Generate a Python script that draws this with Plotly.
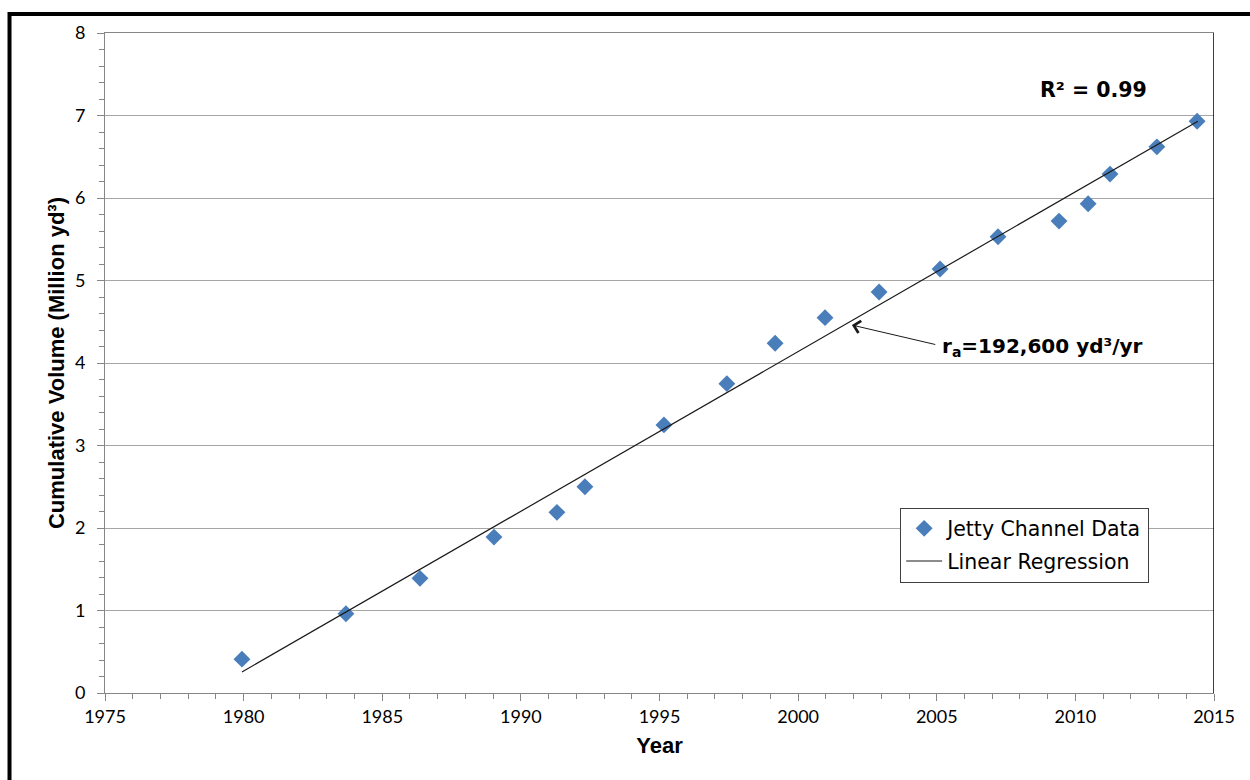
import plotly.graph_objects as go

# Jetty channel cumulative dredged volume (million cubic yards)
years = [1979.94, 1983.69, 1986.36, 1989.03, 1991.30, 1992.31, 1995.16, 1997.43,
         1999.17, 2000.97, 2002.92, 2005.12, 2007.21, 2009.41, 2010.46, 2011.25,
         2012.94, 2014.39]
volumes = [0.41, 0.96, 1.39, 1.89, 2.19, 2.50, 3.25, 3.75, 4.24, 4.55, 4.86,
           5.14, 5.53, 5.72, 5.93, 6.29, 6.62, 6.93]

# Linear regression endpoints
reg_years = [1979.94, 2014.42]
reg_values = [0.255, 6.93]

x_ticks = [1975, 1980, 1985, 1990, 1995, 2000, 2005, 2010, 2015]
y_ticks = [0, 1, 2, 3, 4, 5, 6, 7, 8]

CAL = "Lato, 'Open Sans', sans-serif"
WIDE = "'DejaVu Sans', Verdana, sans-serif"
ARIAL = "'Liberation Sans', Arial, sans-serif"
GRID = "#A6A6A6"
AXIS = "#868686"

fig = go.Figure()
fig.add_trace(go.Scatter(
    x=years, y=volumes, mode="markers", name="Jetty Channel Data",
    legendgroup="a",
    marker=dict(symbol="diamond", size=13, color="#4A7EBB",
                line=dict(width=0)),
))
fig.add_trace(go.Scatter(
    x=reg_years, y=reg_values, mode="lines", name="Linear Regression",
    legendgroup="b",
    line=dict(color="#1a1a1a", width=1.2),
))

# rate arrow and label
fig.add_annotation(x=2001.94, y=4.46, ax=2005.0, ay=4.22, axref="x", ayref="y",
                   xref="x", yref="y", text="", showarrow=True, arrowhead=4,
                   arrowsize=2.4, arrowwidth=1, arrowcolor="#1a1a1a")
fig.add_annotation(x=2005.12, y=4.19, xref="x", yref="y", xanchor="left",
                   yanchor="middle", showarrow=False,
                   text="r<sub>a</sub>=192,600 yd³/yr",
                   font=dict(family=WIDE, size=20, color="#000000", weight="bold"))
fig.add_annotation(x=2010.67, y=7.31, xref="x", yref="y", xanchor="center",
                   yanchor="middle", showarrow=False, text="R² = 0.99",
                   font=dict(family=WIDE, size=20.5, color="#000000", weight="bold"))

# right plot border and outer frame
fig.add_shape(type="line", xref="x", yref="y", x0=2015, x1=2015, y0=0, y1=8,
              line=dict(color="#000000", width=1.5))
fig.add_shape(type="line", xref="paper", yref="paper", x0=-0.0866, x1=1.04,
              y0=1.0288, y1=1.0288, line=dict(color="#000000", width=4))
fig.add_shape(type="line", xref="paper", yref="paper", x0=-0.0861, x1=-0.0861,
              y0=1.0318, y1=-0.14, line=dict(color="#000000", width=4))

fig.update_layout(
    width=1250, height=780,
    margin=dict(l=105, r=36, t=33, b=87),
    paper_bgcolor="white", plot_bgcolor="white",
    showlegend=True,
    legend=dict(
        x=0.717, y=0.281, xanchor="left", yanchor="top",
        bgcolor="white", bordercolor="#404040", borderwidth=1,
        font=dict(family=WIDE, size=20.5, color="#000000"),
        traceorder="grouped", tracegroupgap=3, itemwidth=36,
    ),
    xaxis=dict(
        range=[1975, 2015], tickvals=x_ticks, showgrid=False,
        showline=True, linecolor=AXIS, linewidth=1, mirror=True,
        ticks="outside", ticklen=7, tickcolor=AXIS,
        minor=dict(dtick=1, ticks="outside", ticklen=5, tickcolor=AXIS),
        tickfont=dict(family=CAL, size=18, color="#000000"),
        title=dict(text="Year", standoff=12,
                   font=dict(family=ARIAL, size=22, color="#000000", weight="bold")),
        zeroline=False,
    ),
    yaxis=dict(
        range=[0, 8], tickvals=y_ticks, showgrid=True, gridcolor=GRID,
        gridwidth=1, showline=True, linecolor=AXIS, linewidth=1,
        ticks="outside", ticklen=7, tickcolor=AXIS,
        minor=dict(dtick=0.2, ticks="outside", ticklen=5, tickcolor=AXIS,
                   showgrid=False),
        tickfont=dict(family=CAL, size=18, color="#000000"),
        ticklabelstandoff=8,
        title=dict(text="Cumulative Volume (Million yd³)", standoff=4,
                   font=dict(family=ARIAL, size=22, color="#000000", weight="bold")),
        zeroline=False,
    ),
)

fig.write_html("out.html")
